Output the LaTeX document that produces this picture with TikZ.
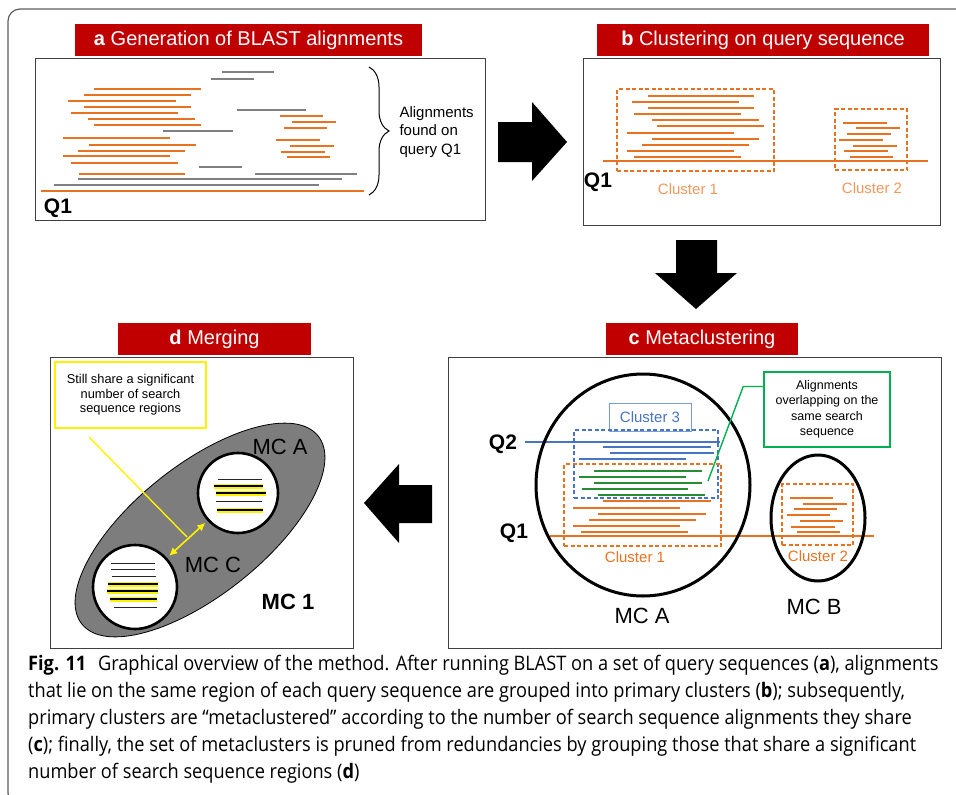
\documentclass[tikz,border=0pt]{standalone}
\usepackage{fontspec}
\setmainfont{Liberation Sans}
\newfontfamily\capfont[FakeStretch=0.91]{Open Sans}
\usetikzlibrary{arrows.meta, positioning, shapes.geometric, decorations.pathreplacing}

\definecolor{titlered}{RGB}{192,0,0}
\definecolor{qorange}{RGB}{232,114,32}
\definecolor{lorange}{RGB}{242,152,92}
\definecolor{qblue}{RGB}{72,116,196}
\definecolor{lblue}{RGB}{120,156,214}
\definecolor{qgreen}{RGB}{0,176,80}
\definecolor{dgreen}{RGB}{40,140,50}
\definecolor{qgray}{RGB}{128,128,128}
\definecolor{mcgray}{RGB}{125,125,125}
\definecolor{framegray}{RGB}{64,64,64}

\begin{document}
\begin{tikzpicture}[x=1pt, y=-1pt,
    title/.style={rectangle, fill=titlered, text=white, minimum height=32pt, inner sep=0pt, font=\fontsize{20}{24}\selectfont},
    panel/.style={rectangle, draw=framegray, line width=1pt, inner sep=0pt},
    aln/.style={line width=1.3pt},
    query/.style={line width=2.6pt},
    hilite/.style={yellow, line width=5pt},
    clusterbox/.style={draw, line width=1.5pt, dash pattern=on 4pt off 2.5pt, inner sep=0pt},
    clab/.style={font=\fontsize{15}{18}\selectfont},
    mclab/.style={font=\fontsize{22}{26}\selectfont},
    qlab/.style={font=\bfseries\fontsize{21}{25}\selectfont},
    mccircle/.style={circle, draw=black, fill=white, line width=2.6pt, inner sep=0pt}
]
    \useasboundingbox (0,0) rectangle (956,795);
    % frame of the figure
    \draw[framegray!85, line width=1.2pt, rounded corners=12pt] (970,9) -- (8,9) -- (8,805) -- (40,805);

    % a: BLAST alignments
    \node[panel, minimum width=450pt, minimum height=162pt] (pa) at (260,139) {};
    \node[title, minimum width=347pt, above=1pt of pa, xshift=-11.5pt] (ta) {\textbf{a} Generation of BLAST alignments};
    \foreach \xa/\xb/\yy in {94/201/89, 84/191/95, 68/176/101, 84/191/107, 71/178/113, 280/323/116, 88/195/119, 292/336/122, 94/201/125, 284/327/128, 63/170/138, 276/320/140, 89/196/145, 290/334/146, 78/185/151, 281/325/152, 63/170/156, 287/330/157, 71/178/163, 79/185/174}
        \draw[aln, qorange] (\xa,\yy) -- (\xb,\yy);
    \foreach \xa/\xb/\yy in {222/274/72, 211/254/79, 237/306/110, 163/233/131, 199/242/167, 255/357/174, 78/342/179, 54/319/185}
        \draw[aln, qgray] (\xa,\yy) -- (\xb,\yy);
    \draw[query, qorange] (41,191) -- (364,191);
    \node[qlab] (qa) at (58,208) {Q1};
    \draw[decorate, decoration={brace, amplitude=20pt}, line width=1pt] (369,67) -- (369,195);
    \node[font=\fontsize{15}{18.5}\selectfont, align=left, anchor=west] (found) at (396,132) {Alignments\\found on\\query Q1};

    % arrow a -> b
    \fill (498,122) -- (532,122) -- (532,102) -- (567,142) -- (532,181) -- (532,162) -- (498,162) -- cycle;

    % b: clustering
    \node[panel, minimum width=357pt, minimum height=167pt] (pb) at (761.5,141.5) {};
    \node[title, minimum width=332pt, above=1pt of pb, xshift=1.5pt] (tb) {\textbf{b} Clustering on query sequence};
    \foreach \xa/\xb/\yy in {648/754/96, 632/739/102, 648/754/108, 634/741/114, 652/759/120, 657/764/126, 627/734/133, 652/759/139, 642/749/145, 627/734/151, 634/741/157, 843/887/123, 856/900/128, 847/891/134, 839/883/140, 853/897/146, 844/888/151, 850/893/157}
        \draw[aln, qorange] (\xa,\yy) -- (\xb,\yy);
    \draw[query, qorange] (603,161) -- (928,161);
    \node[clusterbox, draw=qorange, minimum width=157pt, minimum height=82pt] (bc1) at (695.5,130) {};
    \node[clusterbox, draw=qorange, minimum width=72pt, minimum height=61pt] (bc2) at (871,139.5) {};
    \node[clab, text=lorange] (bl1) at (688,189) {Cluster 1};
    \node[clab, text=lorange] (bl2) at (872,188) {Cluster 2};
    \node[qlab] (qb) at (598,182) {Q1};

    % arrow b -> c
    \fill (676,240) -- (717,240) -- (717,273) -- (737,273) -- (696,309) -- (655,273) -- (676,273) -- cycle;

    % c: metaclustering
    \node[panel, minimum width=493pt, minimum height=291pt] (pc) at (694.5,502.5) {};
    \node[title, minimum width=192pt, above=1pt of pc, xshift=7.5pt] (tc) {\textbf{c} Metaclustering};
    \foreach \xa/\xb/\yy in {603/711/447, 610/714/453, 579/686/459}
        \draw[aln, qblue] (\xa,\yy) -- (\xb,\yy);
    \foreach \xa/\xb/\yy in {594/702/471, 579/686/477, 594/702/483, 582/688/489, 598/705/495}
        \draw[aln, dgreen] (\xa,\yy) -- (\xb,\yy);
    \foreach \xa/\xb/\yy in {603/711/501, 573/680/508, 598/706/514, 589/696/520, 573/680/526, 581/688/532, 790/833/498, 803/847/504, 794/837/509, 787/830/515, 800/843/521, 791/835/527, 797/840/532}
        \draw[aln, qorange] (\xa,\yy) -- (\xb,\yy);
    \draw[query, qblue] (525,442) -- (720,442);
    \draw[query, qorange] (550,536) -- (874,536);
    \node[draw=lblue, fill=white, line width=1pt, minimum width=82pt, minimum height=28pt, clab, text=qblue] (cl3) at (650,417) {Cluster 3};
    \node[clusterbox, draw=qblue, minimum width=144pt, minimum height=68pt] (cc3) at (646,464) {};
    \node[clusterbox, draw=qorange, minimum width=157pt, minimum height=82pt] (cc1) at (642.5,505) {};
    \node[clusterbox, draw=qorange, minimum width=71pt, minimum height=61pt] (cc2) at (817.5,514.5) {};
    \node[clab, text=qorange] (cl1) at (635,557) {Cluster 1};
    \node[clab, text=qorange] (cl2) at (818,556) {Cluster 2};
    \node[ellipse, draw, line width=3pt, minimum width=214pt, minimum height=222pt] (mca) at (643,485) {};
    \node[ellipse, draw, line width=3pt, minimum width=94pt, minimum height=126pt] (mcb) at (818,518) {};
    \node[mclab] (mcalab) at (642,616) {MC A};
    \node[mclab] (mcblab) at (814,607) {MC B};
    \node[qlab] (q2c) at (503,444) {Q2};
    \node[qlab] (q1c) at (514,533) {Q1};
    \node[draw=qgreen, line width=1.6pt, minimum width=126pt, minimum height=75pt, align=center, font=\fontsize{12.5}{15.5}\selectfont] (callout) at (827,409.5) {Alignments\\overlapping on the\\same search\\sequence};
    \coordinate (gtip) at (708,481);
    \draw[qgreen, line width=1.4pt] ([yshift=23pt]callout.west) -- ++(-20,0) -- (gtip);

    % arrow c -> d
    \fill (432,485) -- (399,485) -- (399,464) -- (364,503) -- (399,543) -- (399,523) -- (432,523) -- cycle;

    % d: merging
    \node[panel, minimum width=303pt, minimum height=291pt] (pd) at (201.5,502.5) {};
    \node[title, minimum width=193pt, above=1pt of pd, xshift=13pt] (td) {\textbf{d} Merging};
    \node[ellipse, draw=black, fill=mcgray, line width=0.8pt, minimum width=302pt, minimum height=130pt, rotate=38.5] (mc1) at (200,530) {};
    \node[mccircle, minimum size=80pt] (dmca) at (238,493) {};
    \node[mccircle, minimum size=84pt] (dmcc) at (135,587) {};
    \foreach \xa/\xb/\yy in {214/263/486, 216/266/493, 217/263/510, 108/158/584, 107/158/591, 110/157/599}
        {\draw[hilite] (\xa,\yy) -- (\xb,\yy);
         \draw[aln, black] (\xa,\yy) -- (\xb,\yy);}
    \foreach \xa/\xb/\yy in {218/262/479, 216/262/501, 111/155/563, 111/155/569, 112/156/576, 114/157/607}
        \draw[line width=1pt, black!85] (\xa,\yy) -- (\xb,\yy);
    \node[mclab] (dmcalab) at (280,447) {MC A};
    \node[mclab] (dmcclab) at (213,565) {MC C};
    \node[mclab, font=\bfseries\fontsize{22}{26}\selectfont] (mc1lab) at (288,602) {MC 1};
    \node[draw=yellow, fill=white, line width=1.6pt, minimum width=151pt, minimum height=66pt, align=center, font=\fontsize{12.8}{14.5}\selectfont] (ybox) at (130.5,395) {Still share a significant\\number of search\\sequence regions};
    \coordinate (ystart) at (89,437);
    \coordinate (yend) at (187,537);
    \draw[yellow, line width=1.4pt] (ystart) -- (yend);
    \draw[yellow, line width=1.6pt, {Latex[length=8pt,width=8pt]}-{Latex[length=8pt,width=8pt]}, shorten <=3pt, shorten >=3pt] (dmcc) -- (dmca);

    % caption
    \node[anchor=north west, align=left, inner sep=0pt, font=\capfont\fontsize{20}{27}\selectfont] (cap) at (28,655) {\textbf{Fig. 11}\hspace{7pt} Graphical overview of the method. After running BLAST on a set of query sequences (\textbf{a}), alignments\\that lie on the same region of each query sequence are grouped into primary clusters (\textbf{b}); subsequently,\\primary clusters are “metaclustered” according to the number of search sequence alignments they share\\(\textbf{c}); finally, the set of metaclusters is pruned from redundancies by grouping those that share a significant\\number of search sequence regions (\textbf{d})};
\end{tikzpicture}
\end{document}
